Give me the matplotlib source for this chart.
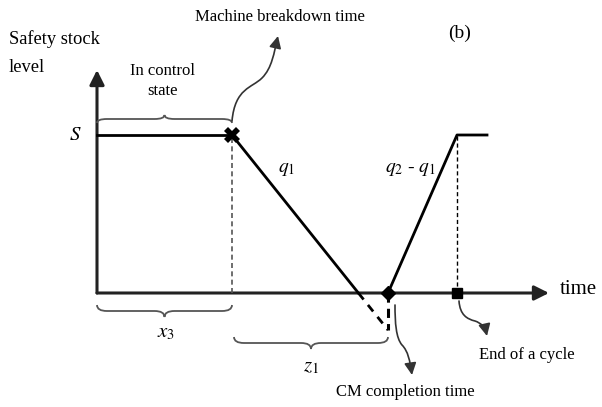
import matplotlib
matplotlib.use("Agg")
import matplotlib.pyplot as plt
from matplotlib.path import Path
from matplotlib.patches import PathPatch, FancyArrowPatch

plt.rcParams["font.family"] = ["Liberation Serif", "DejaVu Serif"]
plt.rcParams["mathtext.fontset"] = "stix"

# inventory profile (time, level); origin at the axes crossing
S = 158
t_break, t_cm, t_end, t_stop = 135, 291, 360, 390
shortage = -37
profile_t = [0, t_break, t_cm]
profile_y = [S, S, shortage]
recovery_t = [t_cm, t_end, t_stop]
recovery_y = [0, S, S]
x_max, y_max = 452, 223

fig = plt.figure(figsize=(6.02, 4.07), dpi=100)
ax = fig.add_axes([0, 0, 1, 1])
ax.set_xlim(-97, 505)
ax.set_ylim(-114, 293)
ax.axis("off")

GREY = "#555555"

# axes with arrowheads
for xy in [(x_max, 0), (0, y_max)]:
    ax.add_patch(FancyArrowPatch((0, 0), xy, arrowstyle="-|>", mutation_scale=22,
                                 lw=2.2, color="#222222", shrinkA=0, shrinkB=0))

# where the falling level crosses zero
cross_t = t_break + S / (S - shortage) * (t_cm - t_break)
ax.plot(profile_t[:2], profile_y[:2], color="black", lw=2)
ax.plot([t_break, cross_t], [S, 0], color="black", lw=2)
ax.plot([cross_t, t_cm], [0, shortage], color="black", lw=2, ls=(0, (3, 2.5)))
ax.plot([t_cm, t_cm], [0, shortage], color="black", lw=2.2, ls=(0, (3, 2)))
ax.plot(recovery_t, recovery_y, color="black", lw=2)

# guide lines
ax.plot([t_break, t_break], [0, S], color=GREY, lw=1.2, ls=(0, (3, 2)))
ax.plot([t_end, t_end], [0, S], color="black", lw=1.0, ls=(0, (3, 2)))

# event markers
ax.plot(t_break, S, marker="X", color="black", ms=12, mew=0)
ax.plot(t_cm, 0, marker="D", color="black", ms=7)
ax.plot(t_end, 0, marker="s", color="black", ms=7)


def brace(x0, x1, y0, h, r=10):
    xm = (x0 + x1) / 2
    yb = y0 + h / 2
    verts = [(x0, y0), (x0, yb), (x0 + r, yb), (xm - r, yb), (xm, yb), (xm, y0 + h),
             (xm, yb), (xm + r, yb), (x1 - r, yb), (x1, yb), (x1, y0)]
    codes = [Path.MOVETO, Path.CURVE3, Path.CURVE3, Path.LINETO, Path.CURVE3, Path.CURVE3,
             Path.CURVE3, Path.CURVE3, Path.LINETO, Path.CURVE3, Path.CURVE3]
    ax.add_patch(PathPatch(Path(verts, codes), fill=False, color=GREY, lw=1.3))


brace(0, t_break, 170, 8)
brace(0, t_break, -12, -12)
brace(t_break + 2, t_cm, -44, -12)


def curly_arrow(pts):
    codes = [Path.MOVETO] + [Path.CURVE4] * (len(pts) - 1)
    ax.add_patch(FancyArrowPatch(path=Path(pts, codes), arrowstyle="-|>",
                                 mutation_scale=18, color="#333333", lw=1.2))


curly_arrow([(t_break, 172), (t_break + 3, 205), (t_break + 20, 205),
             (t_break + 30, 215), (t_break + 40, 225), (t_break + 42, 240), (t_break + 46, 257)])
curly_arrow([(t_cm + 7, -12), (t_cm + 7, -30), (t_cm + 8, -45),
             (t_cm + 14, -52), (t_cm + 20, -58), (t_cm + 22, -68), (t_cm + 24, -82)])
curly_arrow([(t_end + 2, -8), (t_end + 3, -22), (t_end + 10, -26),
             (t_end + 18, -28), (t_end + 24, -30), (t_end + 28, -34), (t_end + 30, -43)])

# labels
ax.text(-88, 240, "Safety stock\nlevel", fontsize=13.3, ha="left", va="center", linespacing=1.85)
ax.text(66, 212, "In control\nstate", fontsize=12, ha="center", va="center", linespacing=1.4)
ax.text(183, 276, "Machine breakdown time", fontsize=12, ha="center", va="center")
ax.text(363, 260, "(b)", fontsize=14, ha="center", va="center")
ax.text(-22, S, "$S$", fontsize=15, ha="center", va="center")
ax.text(190, 123, "$q_1$", fontsize=14, ha="center", va="center")
ax.text(313, 123, "$q_2$ - $q_1$", fontsize=14, ha="center", va="center")
ax.text(463, 3, "time", fontsize=15, ha="left", va="center")
ax.text(69, -40, "$x_3$", fontsize=15, ha="center", va="center")
ax.text(214, -74, "$z_\\mathrm{1}$", fontsize=15, ha="center", va="center")
ax.text(308, -99, "CM completion time", fontsize=12, ha="center", va="center")
ax.text(430, -62, "End of a cycle", fontsize=12, ha="center", va="center")

fig.savefig("out.png", dpi=100, facecolor="white")
